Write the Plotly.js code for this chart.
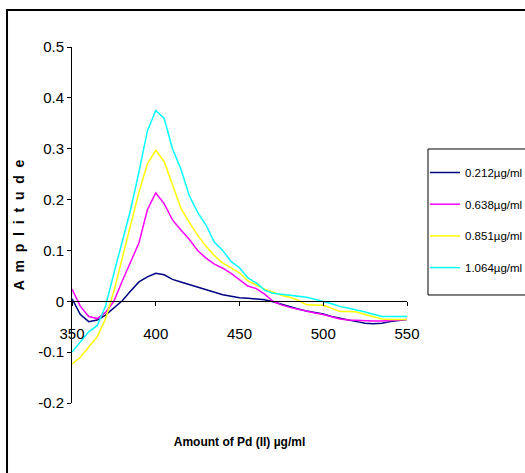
<!DOCTYPE html>
<html>
<head>
<meta charset="utf-8">
<script src="https://cdn.plot.ly/plotly-3.0.1.min.js"></script>
<style>html,body{margin:0;padding:0;background:#fff;}</style>
</head>
<body>
<div id="chart" style="width:525px;height:473px;"></div>
<script>
const wavelength = [350,355,360,365,370,375,380,385,390,395,400,405,410,415,420,425,430,435,440,445,450,455,460,465,470,475,480,485,490,495,500,505,510,515,520,525,530,535,540,545,550];

const seriesNames = ["0.212µg/ml","0.638µg/ml","0.851µg/ml","1.064µg/ml"];

const s0212 = [0.005,-0.026,-0.040,-0.037,-0.027,-0.013,0.001,0.020,0.038,0.048,0.055,0.052,0.043,0.038,0.033,0.028,0.023,0.018,0.013,0.010,0.007,0.006,0.005,0.003,-0.001,-0.006,-0.011,-0.015,-0.019,-0.022,-0.025,-0.030,-0.034,-0.037,-0.040,-0.043,-0.044,-0.043,-0.040,-0.038,-0.036];
const s0638 = [0.024,-0.010,-0.030,-0.034,-0.022,0.000,0.040,0.076,0.115,0.180,0.213,0.192,0.160,0.140,0.122,0.100,0.085,0.073,0.065,0.055,0.043,0.030,0.025,0.014,0.000,-0.007,-0.012,-0.016,-0.020,-0.023,-0.026,-0.031,-0.035,-0.037,-0.038,-0.039,-0.039,-0.039,-0.038,-0.037,-0.036];
const s0851 = [-0.123,-0.110,-0.090,-0.070,-0.035,0.020,0.085,0.150,0.215,0.270,0.297,0.275,0.228,0.183,0.155,0.130,0.108,0.090,0.075,0.065,0.056,0.040,0.032,0.024,0.018,0.012,0.008,0.002,-0.007,-0.007,-0.008,-0.014,-0.020,-0.020,-0.021,-0.026,-0.031,-0.035,-0.036,-0.036,-0.036];
const s1064 = [-0.100,-0.080,-0.060,-0.048,-0.010,0.055,0.115,0.180,0.255,0.335,0.375,0.360,0.300,0.260,0.208,0.175,0.150,0.116,0.100,0.078,0.066,0.046,0.036,0.022,0.016,0.014,0.012,0.010,0.008,0.004,0.000,-0.005,-0.010,-0.013,-0.017,-0.021,-0.026,-0.030,-0.030,-0.030,-0.030];

const xTicks = [350,400,450,500,550];
const yTicks = [-0.2,-0.1,0,0.1,0.2,0.3,0.4,0.5];
const yTickText = ["-0.2","-0.1","0","0.1","0.2","0.3","0.4","0.5"];

const colors = ["#000080","#FF00FF","#FFFF00","#00FFFF"];
const allSeries = [s0212,s0638,s0851,s1064];

const FONT = "Liberation Sans, Arial, sans-serif";

const traces = allSeries.map((ys,i)=>({
  x: wavelength, y: ys, type:"scatter", mode:"lines",
  name: seriesNames[i], legendgroup: "g"+i,
  line:{color:colors[i], width:1.5}
}));

const yMin = -0.2, yMax = 0.5;
const zeroPos = (0 - yMin)/(yMax - yMin);

const layout = {
  width:525, height:473,
  margin:{l:72, r:118, t:47, b:70},
  paper_bgcolor:"#fff", plot_bgcolor:"#fff",
  font:{family:FONT, color:"#000", size:15},
  showlegend:true,
  legend:{
    xref:"container", yref:"container",
    x:425/525, y:1-158/473, xanchor:"left", yanchor:"top",
    borderwidth:0, bgcolor:"rgba(0,0,0,0)",
    font:{family:FONT, size:11.5, color:"#000"},
    tracegroupgap:12.7, itemwidth:30
  },
  xaxis:{
    range:[350,550], tickvals:xTicks, ticktext:xTicks.map(String),
    anchor:"free", position:zeroPos,
    showline:true, linecolor:"#000", linewidth:1,
    ticks:"outside", ticklen:4, tickcolor:"#000",
    showgrid:false, zeroline:false,
    ticklabelstandoff:15,
    tickfont:{family:FONT, size:15},
    title:{text:"Amount of Pd (II) µg/ml", font:{family:FONT, size:12, weight:"bold"}, standoff:96}
  },
  yaxis:{
    range:[yMin,yMax], tickvals:yTicks, ticktext:yTickText,
    showline:true, linecolor:"#000", linewidth:1,
    ticks:"outside", ticklen:4, tickcolor:"#000",
    showgrid:false, zeroline:false,
    tickfont:{family:FONT, size:15},
    title:{text:"A\u00a0\u00a0m\u00a0\u00a0p\u00a0\u00a0l\u00a0\u00a0i\u00a0\u00a0t\u00a0\u00a0u\u00a0\u00a0d\u00a0\u00a0e", font:{family:FONT, size:14, weight:"bold"}, standoff:10}
  },
  shapes:[
    {type:"rect", xref:"paper", yref:"paper", x0:-0.194, x1:1.6, y0:-0.6, y1:1.104,
     line:{color:"#000", width:2}, fillcolor:"rgba(0,0,0,0)", layer:"below"},
    {type:"rect", xref:"paper", yref:"paper", x0:1.0627, x1:1.358, y0:0.3034, y1:0.7135,
     line:{color:"#000", width:1}, fillcolor:"rgba(0,0,0,0)", layer:"below"}
  ]
};

Plotly.newPlot("chart", traces, layout, {displayModeBar:false, staticPlot:true});
</script>
</body>
</html>
